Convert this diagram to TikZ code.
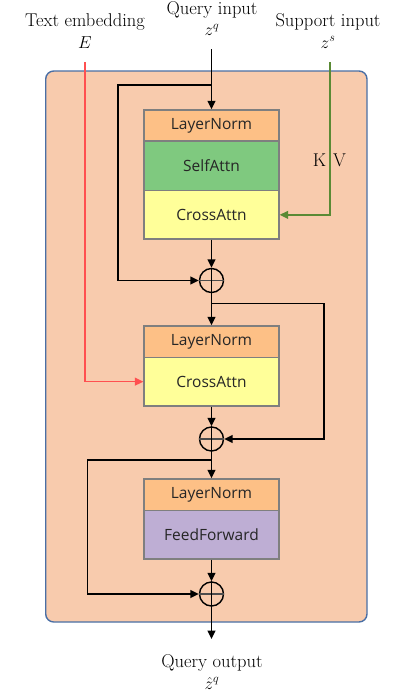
\documentclass[tikz,border=0pt]{standalone}
\usepackage{fontspec}
\setsansfont{Open Sans}
\usetikzlibrary{arrows.meta}
\definecolor{bgfill}{HTML}{F8CBAD}
\definecolor{bgline}{HTML}{4A6FA5}
\definecolor{lnfill}{HTML}{FDC086}
\definecolor{safill}{HTML}{7FC97F}
\definecolor{cafill}{HTML}{FFFF99}
\definecolor{fffill}{HTML}{BEAED4}
\definecolor{boxline}{HTML}{7F7F7F}
\definecolor{redline}{HTML}{FF5050}
\definecolor{greenline}{HTML}{5A8A35}
\definecolor{txtgray}{HTML}{262626}
\tikzset{
  blockbox/.style={draw=boxline, line width=1.4pt, minimum width=135pt, inner sep=0pt,
     font=\sffamily\fontsize{15.5}{18}\selectfont, text=txtgray},
  sumnode/.style={draw=black, circle, line width=1.4pt, minimum size=24pt, inner sep=0pt},
  conn/.style={draw=black, line width=1.5pt},
  arr/.style={-{Triangle[length=8.5pt,width=8pt]}},
  lbl/.style={font=\fontsize{18.5}{21}\selectfont, anchor=base, inner sep=0pt},
}
\begin{document}
\begin{tikzpicture}[x=1pt,y=-1pt]
\useasboundingbox (0,0) rectangle (393,696);
% container
\draw[fill=bgfill, draw=bgline, line width=1.4pt, rounded corners=8pt] (45.7,71) rectangle (367,622);
% blocks
\node[blockbox, fill=lnfill, minimum height=31pt] (ln1) at (211.5,125.5) {LayerNorm};
\node[blockbox, fill=safill, minimum height=49.7pt] (sa1) at (211.5,165.85) {SelfAttn};
\node[blockbox, fill=cafill, minimum height=48.3pt] (ca1) at (211.5,214.85) {CrossAttn};
\node[blockbox, fill=lnfill, minimum height=31.3pt] (ln2) at (211.5,341.65) {LayerNorm};
\node[blockbox, fill=cafill, minimum height=48.7pt] (ca2) at (211.5,381.65) {CrossAttn};
\node[blockbox, fill=lnfill, minimum height=31.7pt] (ln3) at (211.5,494.85) {LayerNorm};
\node[blockbox, fill=fffill, minimum height=48.3pt] (ff) at (211.5,534.85) {FeedForward};
% sum nodes
\foreach \n/\yy in {c1/280.5, c2/439, c3/594}{
  \node[sumnode] (\n) at (211.5,\yy) {};
  \draw[line width=1.4pt, draw=black!70] (\n.west) -- (\n.east);
  \draw[line width=1.4pt] (\n.north) -- (\n.south);
}
% labels
\node[lbl] (tE) at (85,26) {Text embedding};
\node[lbl] (mE) at (85,48) {$E$};
\node[lbl] (tQ) at (212,14.5) {Query input};
\node[lbl] (mQ) at (212,35.5) {$z^q$};
\node[lbl] (tS) at (328,26) {Support input};
\node[lbl] (mS) at (328,48) {$z^s$};
\node[lbl] (tK) at (319.5,166) {K};
\node[lbl] (tV) at (339.5,166) {V};
\node[lbl] (tO) at (212,667) {Query output};
\node[lbl] (mO) at (212,689) {$\hat{z}^q$};
% coordinates
\coordinate (qin) at (211.5,49);
\coordinate (j1) at (211.5,85);
\coordinate (k1) at (118,85);
\coordinate (j2) at (211.5,303.3);
\coordinate (k2) at (324,303.3);
\coordinate (j3) at (211.5,460);
\coordinate (k3) at (87.7,460);
\coordinate (qout) at (211.5,639);
\coordinate (ein) at (85,62);
\coordinate (sin) at (330,62);
% connectors
\draw[conn, arr] (qin) -- (ln1.north);
\draw[conn, arr] (j1) -- (k1) |- (c1.west);
\draw[conn, arr] (ca1.south) -- (c1.north);
\draw[conn, arr] (c1.south) -- (ln2.north);
\draw[conn, arr] (j2) -- (k2) |- (c2.east);
\draw[conn, arr] (ca2.south) -- (c2.north);
\draw[conn, arr] (c2.south) -- (ln3.north);
\draw[conn, arr] (j3) -- (k3) |- (c3.west);
\draw[conn, arr] (ff.south) -- (c3.north);
\draw[conn, arr] (c3.south) -- (qout);
\draw[draw=redline, line width=1.3pt, arr] (ein) |- (ca2.west);
\draw[draw=greenline, line width=1.3pt, arr] (sin) |- (ca1.east);
\end{tikzpicture}
\end{document}
